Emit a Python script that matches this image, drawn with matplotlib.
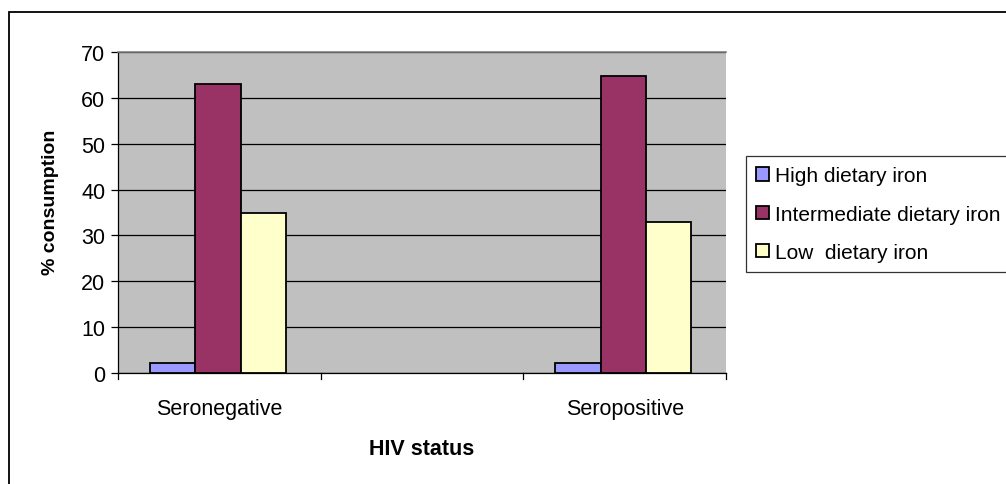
import matplotlib
matplotlib.use("Agg")
import matplotlib.pyplot as plt
from matplotlib.patches import Rectangle
import numpy as np

plt.rcParams['font.family'] = ['Liberation Sans', 'DejaVu Sans']

categories = ["Seronegative", "", "Seropositive"]
series_names = ["High dietary iron", "Intermediate dietary iron", "Low  dietary iron"]
high = [2.2, None, 2.2]
intermediate = [63.0, None, 64.8]
low = [34.8, None, 33.0]
colors = ["#9999FF", "#993366", "#FFFFCC"]
yticks = [0, 10, 20, 30, 40, 50, 60, 70]

FS = 15.5
W, H = 1006, 485
fig = plt.figure(figsize=(W / 100, H / 100), dpi=100)

# outer chart frame (extends beyond the image on right and bottom)
fig.patches.append(Rectangle((9 / W, -0.1), 1.2, (H - 13) / H + 0.1, transform=fig.transFigure,
                             fill=False, edgecolor='black', linewidth=1.3))
# partially visible heading above
fig.text(150 / W, 1.0 + 10 / H, "p", family='Liberation Serif', fontweight='bold', fontsize=16,
         ha='center', va='baseline')

left, right, top, bottom = 118, 726, 53, 374
ax = fig.add_axes([left / W, 1 - bottom / H, (right - left) / W, (bottom - top) / H])
ax.set_facecolor('#C0C0C0')

x = np.arange(len(categories))
bw = 0.223
series = [high, intermediate, low]
for i, (vals, c, name) in enumerate(zip(series, colors, series_names)):
    xs = [xi for xi, v in zip(x, vals) if v is not None]
    vs = [v for v in vals if v is not None]
    ax.bar(np.array(xs) + (i - 1) * bw - 0.007, vs, width=bw, color=c, edgecolor='black',
           linewidth=1.3, label=name, zorder=3)

ax.set_xlim(-0.5, len(categories) - 0.5)
ax.set_ylim(0, 70)
ax.set_yticks(yticks)
ax.yaxis.grid(True, color='black', linewidth=0.9, zorder=1)
ax.set_axisbelow(True)
ax.tick_params(axis='y', direction='out', length=5, width=0.9, labelsize=FS, pad=4)
ax.set_xticks(x)
ax.set_xticklabels(categories, fontsize=FS)
ax.tick_params(axis='x', length=0, pad=18)
for b in np.arange(-0.5, len(categories), 1.0):
    ax.plot([b, b], [0, -0.018], transform=ax.get_xaxis_transform(), color='black',
            linewidth=0.9, clip_on=False)

ax.spines['right'].set_visible(False)
ax.spines['top'].set_color('#808080')
ax.spines['top'].set_linewidth(1.2)
ax.spines['left'].set_linewidth(0.9)
ax.spines['bottom'].set_linewidth(0.9)

ax.set_ylabel("% consumption", fontweight='bold', fontsize=14)
ax.yaxis.set_label_coords(-0.097, 0.535)
ax.set_xlabel("HIV status", fontweight='bold', fontsize=FS, labelpad=14)

leg = ax.legend(loc='upper left', bbox_to_anchor=(746 / W, 1 - 157 / H), bbox_transform=fig.transFigure,
                fontsize=15, frameon=True, fancybox=False, edgecolor='black', handlelength=0.6,
                handleheight=0.6, handletextpad=0.3, labelspacing=0.92, borderpad=0.5,
                borderaxespad=0)
leg.get_frame().set_linewidth(0.9)

fig.savefig("out.png", dpi=100)
